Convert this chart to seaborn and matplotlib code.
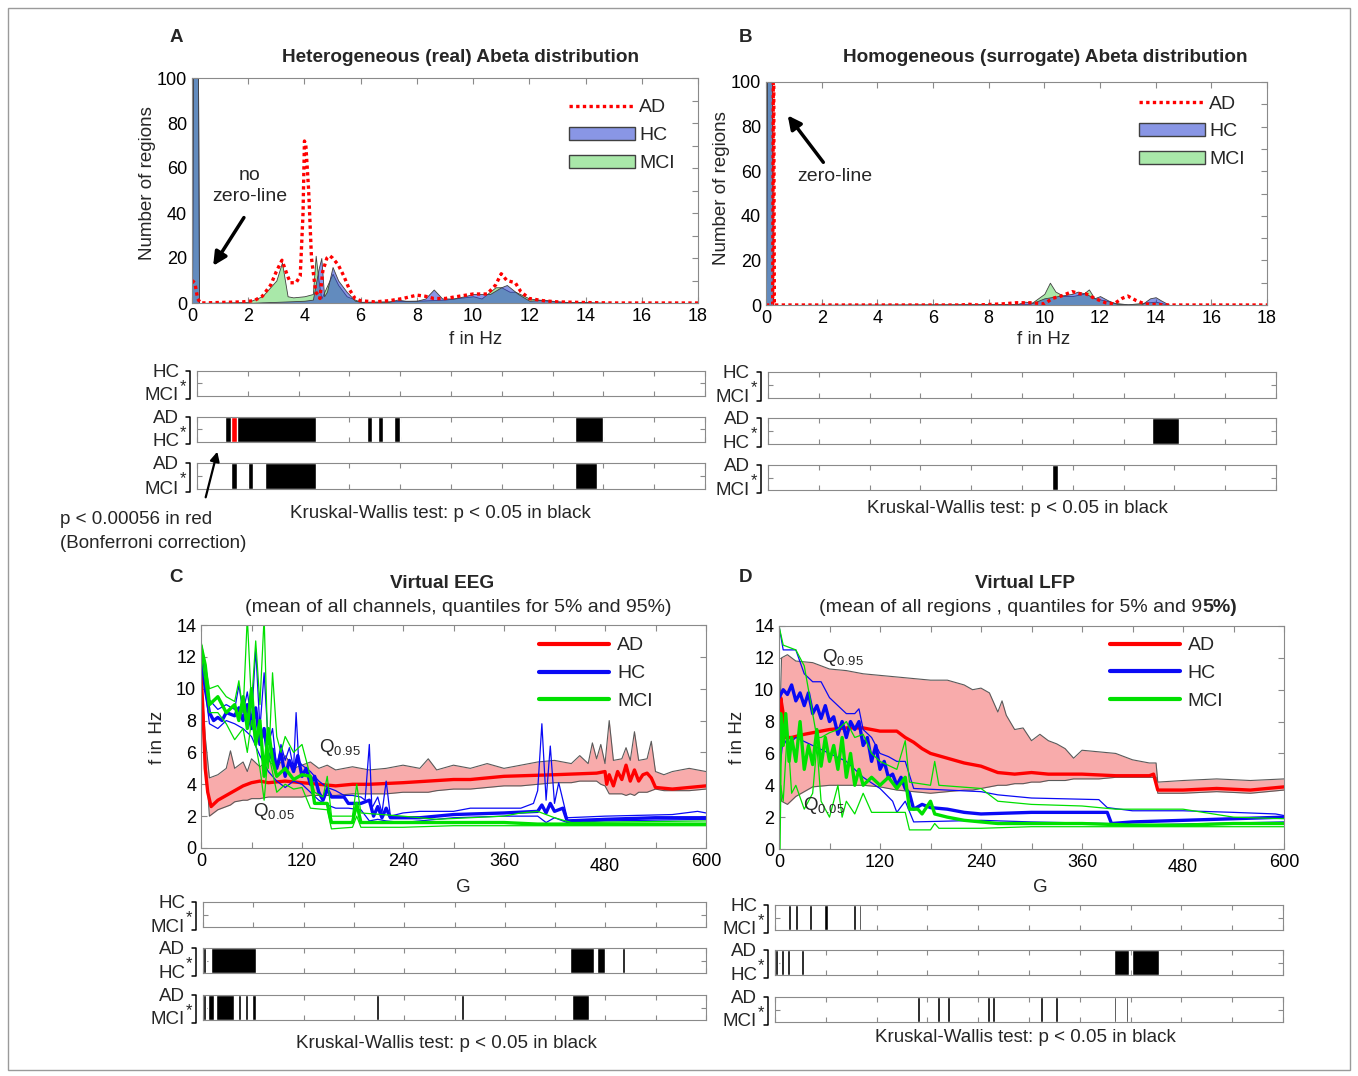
import matplotlib
matplotlib.use('Agg')
import matplotlib.pyplot as plt
import seaborn as sns
from matplotlib.patches import Patch, Rectangle, FancyArrowPatch
from matplotlib.lines import Line2D

# ---------------- data ----------------
# A: heterogeneous Abeta, histogram of peak frequency
a_ad_f = [0.0, 0.1, 0.2, 0.3, 1.8, 2.2, 2.5, 2.8, 3.0, 3.2, 3.4, 3.5, 3.7, 3.85, 3.95, 4.0, 4.05, 4.15, 4.25, 4.4,
          4.55, 4.65, 4.8, 4.9, 5.0, 5.2, 5.4, 5.6, 5.8, 6.0, 6.5, 7.0, 7.5, 8.0, 8.3, 8.6, 9.0, 9.5, 10.0, 10.5,
          10.8, 11.0, 11.2, 11.5, 11.7, 12.0, 12.5, 13.0, 14.0, 15.0, 18.0]
a_ad_n = [10, 9, 2, 0, 0.5, 1, 3, 8, 14, 19, 12, 9, 9, 12, 40, 72, 70, 50, 20, 5,
          2, 14, 20, 21, 20, 17, 12, 6, 2, 1, 0.5, 1, 2, 3.5, 3, 2, 2, 3, 4, 4,
          8, 13, 10, 9, 5, 2, 1, 0.5, 0.2, 0, 0]
a_hc_f = [0.0, 0.05, 0.2, 0.25, 2.0, 2.5, 3.0, 4.0, 4.3, 4.5, 4.6, 4.7, 4.8, 5.0, 5.2, 5.5, 5.8, 6.0, 7.0, 7.3,
          7.6, 8.0, 8.3, 8.6, 8.9, 9.3, 9.7, 10.0, 10.3, 10.6, 11.0, 11.2, 11.4, 11.6, 12.0, 12.5, 12.8, 13.5,
          14.0, 14.3, 15.0, 18.0]
a_hc_n = [0, 140, 140, 0, 0, 0.3, 0.5, 1, 1.5, 15, 20, 3, 5, 16, 10, 5, 1, 0.5, 0.5, 1.5,
          1, 1, 2, 6, 2, 2, 3, 4, 4, 4, 7, 8, 6, 4, 1, 1.5, 1, 0.3, 0.5, 0.2, 0, 0]
a_mci_f = [0.0, 0.05, 0.2, 0.25, 2.0, 2.5, 3.0, 3.2, 3.4, 3.6, 4.0, 4.3, 4.4, 4.5, 4.6, 5.0, 5.2, 5.5, 6.0, 8.0,
           9.0, 10.0, 10.3, 10.8, 11.0, 11.3, 11.5, 12.0, 13.0, 14.0, 15.0, 18.0]
a_mci_n = [0, 140, 140, 0, 0.5, 3, 10, 18, 3, 2.5, 3, 4, 21, 10, 2, 13, 8, 3, 0.5, 1,
           1.5, 3, 2, 7, 7, 5, 5, 2, 0.5, 0.3, 0, 0]

# B: homogeneous (surrogate) Abeta
b_ad_f = [0.0, 0.24, 0.27, 0.3, 7.0, 7.3, 7.6, 8.5, 9.0, 9.5, 10.0, 10.3, 10.6, 11.0, 11.3, 11.5, 11.8, 12.2,
          12.5, 12.8, 13.0, 13.3, 13.6, 14.0, 14.5, 18.0]
b_ad_n = [0, 0, 140, 0, 0, 0.3, 0, 0.5, 1, 1, 0.5, 3, 4, 6, 5, 5, 3, 1, 0.5, 3, 4, 2, 0.5, 0.2, 0, 0]
b_hc_f = [0.0, 0.05, 0.2, 0.25, 9.0, 9.3, 9.6, 10.0, 10.5, 11.0, 11.2, 11.5, 11.8, 12.0, 12.3, 12.6, 13.0,
          13.5, 13.8, 14.0, 14.2, 14.5, 18.0]
b_hc_n = [0, 140, 140, 0, 0.3, 1.5, 1, 3, 4, 5, 6, 5, 3, 4, 2, 0.5, 0.3, 0.3, 3, 3.5, 2, 0, 0]
b_mci_f = [0.0, 0.05, 0.2, 0.25, 9.5, 10.0, 10.2, 10.4, 10.7, 11.0, 11.4, 11.6, 11.8, 12.2, 12.5, 13.0, 14.0,
           14.5, 18.0]
b_mci_n = [0, 140, 140, 0, 0.5, 5, 10, 6, 4, 4, 5, 7, 3, 2, 1, 0.3, 1.5, 0, 0]

# C: virtual EEG
c_band_g = [0, 5, 10, 20, 30, 35, 40, 50, 55, 60, 70, 80, 90, 100, 110, 120, 130, 140, 150, 160, 180, 200, 220,
            240, 260, 270, 280, 300, 320, 340, 360, 380, 400, 420, 440, 450, 460, 465, 470, 475, 480, 485, 490,
            500, 505, 510, 515, 520, 530, 535, 540, 550, 560, 580, 600]
c_q95 = [11.0, 7.0, 4.4, 4.6, 5.0, 6.1, 5.0, 5.4, 4.8, 5.6, 5.1, 5.5, 5.0, 5.8, 5.0, 5.2, 5.4, 5.0, 5.2, 4.9,
         5.1, 4.9, 5.0, 5.2, 5.0, 5.6, 4.9, 5.2, 5.0, 5.3, 5.0, 5.2, 5.4, 5.5, 5.3, 5.8, 5.3, 6.6, 5.6, 6.5,
         5.3, 8.0, 5.5, 5.6, 6.3, 5.5, 7.3, 5.5, 5.6, 6.7, 4.8, 4.6, 4.8, 5.0, 4.8]
c_q05 = [11.0, 6.0, 2.0, 2.4, 2.6, 2.7, 2.9, 3.0, 3.0, 3.1, 3.1, 3.2, 3.2, 3.2, 3.2, 3.2, 3.3, 3.3, 3.3, 3.3,
         3.4, 3.4, 3.4, 3.5, 3.5, 3.5, 3.6, 3.7, 3.7, 3.8, 3.9, 3.9, 4.0, 4.1, 4.1, 4.2, 4.2, 4.2, 4.2, 4.0,
         3.9, 3.4, 3.4, 3.4, 3.3, 3.4, 3.3, 3.5, 3.5, 3.6, 3.7, 3.6, 3.6, 3.6, 3.7]
c_ad_g = [0, 2, 5, 8, 12, 20, 30, 40, 50, 60, 70, 80, 100, 120, 140, 160, 180, 200, 240, 300, 320, 360, 420,
          470, 480, 482, 485, 490, 495, 500, 505, 510, 515, 520, 525, 530, 535, 540, 560, 580, 600]
c_ad_m = [11.0, 9.0, 5.0, 3.5, 2.6, 3.0, 3.3, 3.6, 3.9, 4.1, 4.2, 4.1, 4.2, 4.1, 4.0, 3.9, 4.0, 4.0, 4.1, 4.3,
          4.3, 4.5, 4.6, 4.7, 4.8, 4.0, 4.6, 3.9, 4.8, 4.3, 5.2, 4.2, 4.9, 4.2, 4.6, 4.7, 4.4, 3.8, 3.7, 3.8, 3.9]
c_hc_g = [0, 5, 10, 15, 20, 25, 30, 40, 45, 50, 55, 60, 65, 70, 75, 80, 85, 90, 95, 100, 105, 110, 115, 120,
          125, 130, 135, 140, 145, 150, 155, 160, 170, 175, 190, 200, 205, 210, 215, 220, 225, 240, 260, 300,
          360, 400, 405, 410, 415, 420, 430, 435, 480, 540, 600]
c_hc_m = [12.5, 10.0, 8.5, 8.0, 8.2, 8.0, 8.5, 8.3, 8.8, 8.0, 9.0, 7.5, 8.8, 6.5, 7.5, 5.5, 6.2, 5.0, 6.0, 4.5,
          5.5, 4.8, 5.8, 4.5, 5.0, 4.0, 4.5, 3.5, 3.0, 3.7, 3.2, 3.2, 3.2, 2.8, 2.8, 3.0, 2.0, 2.6, 1.9, 2.5,
          1.9, 1.9, 1.9, 2.1, 2.2, 2.3, 2.7, 2.2, 2.8, 2.3, 2.5, 1.7, 1.8, 1.9, 1.9]
c_hc95_g = [0, 10, 20, 30, 40, 45, 50, 55, 60, 65, 70, 75, 80, 85, 90, 95, 100, 105, 110, 113, 116, 120, 130,
            140, 150, 160, 170, 180, 190, 195, 200, 203, 210, 215, 220, 225, 240, 260, 300, 320, 360, 380, 395,
            400, 405, 410, 415, 420, 425, 430, 435, 480, 560, 590, 600]
c_hc95 = [12.8, 9.3, 8.7, 9.0, 8.7, 10.2, 8.5, 9.8, 8.0, 12.5, 7.5, 11.0, 6.5, 7.5, 5.0, 6.5, 5.5, 6.3, 5.0,
          8.5, 5.5, 5.2, 4.8, 4.2, 3.8, 3.6, 3.3, 3.3, 3.2, 3.0, 6.5, 2.5, 3.2, 2.2, 4.2, 2.0, 2.2, 2.3, 2.3,
          2.5, 2.5, 2.5, 2.8, 3.6, 7.8, 3.0, 6.4, 2.8, 4.1, 3.0, 1.9, 2.0, 2.1, 2.3, 2.2]
c_hc05_g = [0, 10, 20, 30, 40, 50, 60, 70, 80, 90, 100, 110, 120, 130, 140, 150, 160, 175, 190, 200, 210, 220,
            240, 300, 360, 400, 410, 420, 435, 480, 600]
c_hc05 = [12.2, 7.8, 7.5, 8.0, 7.8, 7.5, 7.0, 5.8, 4.8, 4.2, 3.8, 4.2, 4.0, 3.5, 3.0, 2.7, 2.5, 2.5, 2.4, 1.7,
          1.8, 1.7, 1.6, 1.9, 2.0, 2.0, 1.6, 1.9, 1.6, 1.7, 1.8]
c_mci_g = [0, 5, 10, 20, 30, 40, 45, 50, 55, 60, 65, 70, 75, 80, 85, 90, 100, 110, 120, 130, 135, 150, 155,
           180, 185, 190, 240, 300, 360, 400, 600]
c_mci_m = [12.7, 11.5, 9.0, 9.5, 8.5, 9.0, 8.0, 9.5, 7.5, 10.0, 6.5, 8.0, 4.5, 7.5, 5.5, 4.5, 5.0, 4.3, 4.6,
           4.5, 2.8, 2.8, 1.6, 1.6, 2.8, 1.6, 1.6, 1.6, 1.6, 1.5, 1.5]
c_mci95_g = [0, 10, 20, 30, 40, 45, 50, 55, 60, 65, 70, 75, 80, 85, 90, 95, 100, 110, 120, 125, 130, 135, 145,
             150, 155, 180, 185, 190, 240, 280, 360, 380, 400, 420, 440, 600]
c_mci95 = [13.0, 10.0, 10.2, 9.5, 9.2, 10.5, 8.5, 14.5, 9.0, 13.0, 9.0, 14.5, 5.0, 11.0, 7.0, 6.0, 7.0, 6.0,
           6.5, 5.5, 4.5, 3.5, 3.2, 4.5, 2.0, 2.0, 4.0, 2.2, 2.0, 1.8, 2.0, 2.2, 2.3, 1.9, 1.6, 1.7]
c_mci05_g = [0, 10, 20, 30, 40, 50, 55, 60, 70, 75, 80, 90, 100, 110, 120, 130, 150, 155, 180, 185, 190, 240,
             300, 400, 600]
c_mci05 = [12.3, 8.5, 8.5, 7.8, 6.8, 7.5, 6.0, 8.0, 5.0, 3.0, 6.0, 3.5, 4.0, 3.7, 3.8, 2.5, 2.4, 1.2, 1.3,
           2.0, 1.3, 1.3, 1.4, 1.4, 1.4]

# D: virtual LFP
d_band_g = [0, 3, 10, 20, 40, 60, 80, 100, 120, 140, 160, 180, 200, 220, 230, 240, 250, 260, 265, 270, 280,
            290, 300, 310, 320, 330, 340, 350, 360, 380, 400, 410, 420, 440, 448, 450, 480, 520, 560, 600]
d_q95 = [6.0, 12.0, 12.2, 11.8, 11.7, 11.3, 11.2, 11.0, 10.9, 10.8, 10.7, 10.6, 10.6, 10.3, 10.0, 10.1, 9.8,
         8.6, 9.3, 8.4, 7.5, 7.6, 6.8, 7.2, 6.8, 6.6, 6.3, 5.7, 6.2, 6.1, 6.0, 5.8, 5.6, 5.4, 5.4, 4.2, 4.3,
         4.4, 4.3, 4.4]
d_q05 = [5.5, 3.0, 2.8, 3.3, 3.9, 4.0, 4.0, 4.0, 3.9, 3.7, 3.6, 3.5, 3.6, 3.7, 3.7, 3.8, 3.9, 4.0, 4.0, 4.0,
         4.1, 4.1, 4.2, 4.2, 4.3, 4.3, 4.3, 4.4, 4.4, 4.4, 4.5, 4.5, 4.5, 4.5, 4.5, 3.5, 3.5, 3.6, 3.5, 3.7]
d_ad_g = [0, 2, 5, 8, 15, 30, 40, 60, 80, 100, 120, 140, 150, 160, 170, 180, 200, 220, 240, 260, 280, 300,
          320, 360, 400, 440, 445, 450, 480, 520, 560, 600]
d_ad_m = [5.8, 9.5, 8.5, 7.0, 7.0, 7.2, 7.3, 7.5, 7.6, 7.6, 7.4, 7.4, 7.0, 6.7, 6.3, 6.0, 5.7, 5.4, 5.2, 4.8,
          4.7, 4.8, 4.7, 4.7, 4.6, 4.6, 4.7, 3.7, 3.7, 3.8, 3.7, 3.9]
d_hc_g = [0, 5, 10, 15, 20, 25, 30, 35, 40, 45, 50, 55, 60, 65, 70, 75, 80, 85, 90, 95, 100, 105, 110, 115,
          120, 125, 130, 135, 140, 145, 150, 155, 160, 170, 180, 200, 220, 240, 300, 360, 390, 395, 420, 480,
          540, 600]
d_hc_m = [9.5, 10.0, 9.7, 10.3, 9.3, 9.8, 9.0, 9.8, 8.5, 9.0, 8.2, 9.0, 8.0, 8.3, 7.2, 8.0, 7.0, 8.0, 7.5, 8.0,
          6.5, 7.0, 5.5, 6.5, 5.0, 5.5, 4.5, 4.7, 4.0, 4.5, 3.8, 3.5, 2.5, 2.8, 2.6, 2.5, 2.3, 2.2, 2.3, 2.3,
          2.3, 1.6, 1.7, 1.8, 1.9, 2.0]
d_hc95_g = [0, 5, 20, 30, 40, 50, 60, 70, 80, 90, 95, 100, 110, 120, 130, 140, 150, 160, 200, 240, 260, 300,
            380, 390, 420, 480, 540, 590, 600]
d_hc95 = [14.0, 12.5, 12.5, 11.0, 10.5, 10.5, 9.5, 9.0, 8.5, 8.5, 8.8, 7.5, 7.0, 6.0, 5.8, 5.5, 5.5, 3.8, 3.7,
          3.6, 3.4, 3.2, 3.1, 2.6, 2.4, 2.4, 2.3, 2.2, 2.1]
d_hc05_g = [0, 5, 10, 20, 40, 60, 80, 100, 120, 135, 140, 150, 160, 240, 300, 390, 420, 600]
d_hc05 = [4.5, 7.0, 6.5, 7.0, 6.5, 6.0, 5.5, 4.5, 3.8, 3.0, 2.3, 3.0, 1.7, 1.8, 1.7, 1.6, 1.5, 1.7]
d_mci_g = [0, 2, 5, 8, 12, 15, 20, 25, 30, 35, 40, 45, 50, 55, 60, 65, 70, 75, 80, 85, 90, 95, 100, 110, 120,
           130, 140, 150, 155, 165, 170, 180, 185, 200, 220, 240, 260, 300, 360, 420, 480, 540, 600]
d_mci_m = [0.0, 8.5, 6.5, 8.5, 5.5, 7.0, 5.5, 8.0, 5.0, 6.5, 5.3, 7.5, 5.2, 7.0, 5.5, 6.5, 5.0, 7.0, 4.5, 6.0,
           4.0, 5.0, 4.0, 4.5, 4.0, 4.5, 3.8, 4.5, 2.5, 2.5, 2.2, 3.0, 2.2, 2.0, 1.8, 1.7, 1.6, 1.6, 1.6, 1.5,
           1.5, 1.6, 1.6]
d_mci95_g = [0, 5, 20, 30, 35, 40, 45, 50, 60, 70, 80, 90, 100, 110, 120, 140, 150, 155, 180, 185, 190, 240,
             260, 300, 360, 400, 440, 480, 540, 600]
d_mci95 = [14.0, 12.8, 12.5, 11.5, 10.0, 8.5, 7.0, 7.0, 7.3, 7.5, 8.0, 7.0, 7.2, 6.0, 5.5, 5.0, 6.8, 4.2, 4.0,
           5.5, 4.0, 3.8, 3.0, 2.8, 2.7, 2.5, 2.5, 2.5, 2.0, 1.9]
d_mci05_g = [0, 2, 5, 10, 15, 20, 30, 40, 45, 50, 60, 70, 75, 80, 90, 100, 110, 120, 140, 150, 155, 180, 185,
             190, 240, 300, 400, 480, 600]
d_mci05 = [0.0, 4.0, 3.0, 7.5, 3.5, 4.0, 2.5, 3.5, 6.5, 3.0, 2.0, 4.0, 2.0, 3.0, 2.2, 3.5, 2.3, 2.3, 2.3, 2.3,
           1.2, 1.2, 1.6, 1.3, 1.3, 1.4, 1.4, 1.4, 1.4]

# significance bands (start, end); A/B strips on a 0-20 scale, C/D in G
a_sig = {'HC-MCI': [], 'AD-HC': [(1.1, 4.67), (6.69, 6.9), (7.13, 7.33), (7.77, 8.0), (14.9, 16.0)],
         'AD-MCI': [(1.35, 1.57), (1.99, 2.2), (2.66, 4.67), (14.9, 15.75)]}
a_red = [(1.35, 1.57)]
b_sig = {'HC-MCI': [], 'AD-HC': [(15.1, 16.2)], 'AD-MCI': [(11.2, 11.4)]}
c_sig = {'HC-MCI': [],
         'AD-HC': [(0.3, 3.8), (9.3, 63.6), (437.5, 466.5), (470, 479), (500.2, 503.9)],
         'AD-MCI': [(0.3, 3.5), (5.8, 12.9), (16, 37), (41.9, 45.4), (50.0, 53.6), (57.9, 63.6),
                    (206.7, 210.3), (308.2, 311.8), (440, 461)]}
d_sig = {'HC-MCI': [(15.4, 18.9), (23.5, 27.0), (39.7, 43.2), (58.1, 62.7), (92.4, 95.6), (98.7, 101.9)],
         'AD-HC': [(0.5, 4.0), (7.3, 10.8), (14.5, 18.0), (30.7, 34.2), (400.3, 418.3), (421.5, 453)],
         'AD-MCI': [(167.7, 171.2), (191.2, 194.7), (202.9, 206.4), (250.7, 254.2), (256.5, 260.0),
                    (313.3, 316.8), (330.9, 334.4), (399.9, 403.0), (414.3, 417.4)]}

# ---------------- style ----------------
sns.set_theme(style='white')
plt.rcParams['font.family'] = ['Liberation Sans', 'DejaVu Sans']
plt.rcParams['mathtext.fontset'] = 'custom'
plt.rcParams['mathtext.rm'] = 'Liberation Sans'

W, H = 1358, 1076
RED, BLUE, GREEN = '#ff0000', '#0a0af5', '#00e000'
HC_FILL = (0.16, 0.25, 0.82, 0.55)
MCI_FILL = '#a9e8a9'
BAND = '#f8abab'
EDGE = '#5a5a5a'
FRAME = '#8a8a8a'

fig = plt.figure(figsize=(W / 100, H / 100), dpi=100)


def px(l, t, r, b):
    return [l / W, 1 - b / H, (r - l) / W, (b - t) / H]


def ftext(x, y, s, **kw):
    fig.text(x / W, 1 - y / H, s, **kw)


def box(ax):
    for s in ax.spines.values():
        s.set_color(FRAME)
        s.set_linewidth(0.8)
    ax.tick_params(which='both', direction='in', top=True, right=True, bottom=True, left=True,
                   colors=FRAME, labelcolor='black', labelsize=13, length=4, width=0.8)


def line(ax, x, y, color, lw, **kw):
    sns.lineplot(x=x, y=y, ax=ax, color=color, lw=lw, estimator=None, sort=False, legend=False, **kw)


def hist_panel(rect, hc_f, hc_n, mci_f, mci_n, ad_f, ad_n, leg_y):
    ax = fig.add_axes(px(*rect))
    ax.fill_between(mci_f, mci_n, facecolor=MCI_FILL, edgecolor='#404040', lw=0.6)
    ax.fill_between(hc_f, hc_n, facecolor=HC_FILL, edgecolor='#404040', lw=0.6)
    line(ax, ad_f, ad_n, RED, 2.4, linestyle=(0, (1, 1)))
    ax.set_xlim(0, 18)
    ax.set_ylim(0, 100)
    ax.set_xticks(range(0, 19, 2))
    ax.set_yticks(range(0, 101, 20))
    ax.set_yticks(range(10, 100, 20), minor=True)
    ax.set_xlabel('')
    ax.set_ylabel('')
    box(ax)
    handles = [Line2D([], [], color=RED, lw=2.4, linestyle=(0, (1, 1))),
               Patch(facecolor=HC_FILL, edgecolor='#404040'),
               Patch(facecolor=MCI_FILL, edgecolor='#404040')]
    ax.legend(handles, ['AD', 'HC', 'MCI'], loc='upper left', bbox_to_anchor=(0.745, leg_y),
              frameon=False, fontsize=14, handlelength=3.4, handletextpad=0.2,
              labelspacing=0.53, borderaxespad=0, borderpad=0)
    return ax


def g_panel(rect, band_g, q05, q95, ad, hc, hc95, hc05, mci, mci95, mci05, leg_x, leg_y):
    ax = fig.add_axes(px(*rect))
    ax.fill_between(band_g, q05, q95, facecolor=BAND, lw=0)
    line(ax, band_g, q95, EDGE, 0.8)
    line(ax, band_g, q05, EDGE, 0.8)
    line(ax, ad[0], ad[1], RED, 2.4)
    line(ax, hc95[0], hc95[1], BLUE, 0.9)
    line(ax, hc05[0], hc05[1], BLUE, 0.9)
    line(ax, hc[0], hc[1], BLUE, 2.4)
    line(ax, mci95[0], mci95[1], GREEN, 0.9)
    line(ax, mci05[0], mci05[1], GREEN, 0.9)
    line(ax, mci[0], mci[1], GREEN, 2.4)
    ax.set_xlim(0, 600)
    ax.set_ylim(0, 14)
    ax.set_xticks(range(0, 601, 120))
    ax.set_xticks(range(60, 600, 120), minor=True)
    ax.set_yticks(range(0, 15, 2))
    ax.set_xlabel('')
    ax.set_ylabel('')
    box(ax)
    ax.xaxis.get_major_ticks()[4].set_pad(7.5)
    handles = [Line2D([], [], color=c, lw=3) for c in (RED, BLUE, GREEN)]
    ax.legend(handles, ['AD', 'HC', 'MCI'], loc='upper left', bbox_to_anchor=(leg_x, leg_y),
              frameon=False, fontsize=14, handlelength=3.6, handletextpad=0.4,
              labelspacing=0.53, borderaxespad=0, borderpad=0)
    return ax


def strips(rects, xmax, step, sig, red=None):
    names = [('HC', 'MCI', 'HC-MCI'), ('AD', 'HC', 'AD-HC'), ('AD', 'MCI', 'AD-MCI')]
    for rect, (top, bot, key) in zip(rects, names):
        ax = fig.add_axes(px(*rect))
        spans = sig[key]
        if spans:
            ax.broken_barh([(s, e - s) for s, e in spans], (0, 1), facecolors='black')
        if red is not None and key == 'AD-HC':
            ax.broken_barh([(s, e - s) for s, e in red], (0, 1), facecolors=RED)
        ax.set_xlim(0, xmax)
        ax.set_ylim(0, 1)
        ax.set_xticks([i * step for i in range(int(round(xmax / step)) + 1)])
        ax.set_yticks([0.5])
        ax.tick_params(labelbottom=False, labelleft=False)
        box(ax)
        ax.tick_params(length=3.5)
        w = rect[2] - rect[0]
        ax.text(-18 / w, 0.95, top, transform=ax.transAxes, ha='right', va='center', fontsize=13.5)
        ax.text(-18 / w, 0.0, bot, transform=ax.transAxes, ha='right', va='center', fontsize=13.5)
        ax.text(-14 / w, 0.38, '*', transform=ax.transAxes, ha='center', va='center', fontsize=12)
        ax.plot([-11 / w, -7 / w, -7 / w, -11 / w], [1.0, 1.0, -0.1, -0.1], color='black', lw=1.1,
                transform=ax.transAxes, clip_on=False)


# ---------------- panel A / B ----------------
axA = hist_panel((192, 78, 698, 303), a_hc_f, a_hc_n, a_mci_f, a_mci_n, a_ad_f, a_ad_n, 0.908)
axA.text(2.06, 52, 'no\nzero-line', ha='center', va='center', fontsize=14, linespacing=1.25)
axA.annotate('', xy=(0.7, 15.5), xytext=(1.9, 39),
             arrowprops=dict(arrowstyle='-|>', color='black', lw=2.5, mutation_scale=20))

axB = hist_panel((766, 82, 1267, 305), b_hc_f, b_hc_n, b_mci_f, b_mci_n, b_ad_f, b_ad_n, 0.942)
axB.text(2.48, 57.5, 'zero-line', ha='center', va='center', fontsize=14)
axB.annotate('', xy=(0.72, 86), xytext=(2.12, 63),
             arrowprops=dict(arrowstyle='-|>', color='black', lw=2.5, mutation_scale=20))

strips([(197, 371, 705, 396), (197, 417, 705, 442), (197, 463, 705, 489)], 20, 2, a_sig, a_red)
strips([(768, 372, 1276, 398), (768, 418, 1276, 444), (768, 465, 1276, 490)], 20, 2, b_sig)

# ---------------- panel C / D ----------------
axC = g_panel((201, 625, 706, 848), c_band_g, c_q05, c_q95, (c_ad_g, c_ad_m), (c_hc_g, c_hc_m),
              (c_hc95_g, c_hc95), (c_hc05_g, c_hc05), (c_mci_g, c_mci_m), (c_mci95_g, c_mci95),
              (c_mci05_g, c_mci05), 0.67, 0.947)
axC.text(140, 6.3, r'Q$_{\mathrm{0.95}}$', fontsize=13.5, va='center')
axC.text(62, 2.3, r'Q$_{\mathrm{0.05}}$', fontsize=13.5, va='center')

axD = g_panel((779, 626, 1284, 849), d_band_g, d_q05, d_q95, (d_ad_g, d_ad_m), (d_hc_g, d_hc_m),
              (d_hc95_g, d_hc95), (d_hc05_g, d_hc05), (d_mci_g, d_mci_m), (d_mci95_g, d_mci95),
              (d_mci05_g, d_mci05), 0.655, 0.952)
axD.text(51, 12.05, r'Q$_{\mathrm{0.95}}$', fontsize=13.5, va='center')
axD.text(29, 2.7, r'Q$_{\mathrm{0.05}}$', fontsize=13.5, va='center')

strips([(203, 902, 706, 927), (203, 948, 706, 973), (203, 995, 706, 1020)], 600, 60, c_sig)
strips([(775, 905, 1283, 930), (775, 950, 1283, 975), (775, 997, 1283, 1022)], 600, 60, d_sig)

# ---------------- text ----------------
ftext(176, 37, 'A', ha='center', va='center', fontsize=13.5, fontweight='bold')
ftext(745, 37, 'B', ha='center', va='center', fontsize=13.5, fontweight='bold')
ftext(176, 578, 'C', ha='center', va='center', fontsize=13.5, fontweight='bold')
ftext(745, 578, 'D', ha='center', va='center', fontsize=13.5, fontweight='bold')

ftext(461, 58, 'Heterogeneous (real) Abeta distribution', ha='center', va='center', fontsize=13.7,
      fontweight='bold')
ftext(1045, 58, 'Homogeneous (surrogate) Abeta distribution', ha='center', va='center', fontsize=13.7,
      fontweight='bold')
ftext(442, 583, 'Virtual EEG', ha='center', va='center', fontsize=13.7, fontweight='bold')
ftext(458, 607, '(mean of all channels, quantiles for 5% and 95%)', ha='center', va='center', fontsize=14)
ftext(1025, 583, 'Virtual LFP', ha='center', va='center', fontsize=13.7, fontweight='bold')
ftext(1202, 607, '(mean of all regions , quantiles for 5% and 9', ha='right', va='center', fontsize=14)
ftext(1202, 607, '5%)', ha='left', va='center', fontsize=14, fontweight='bold')

ftext(476, 339, 'f in Hz', ha='center', va='center', fontsize=13.5)
ftext(1044, 339, 'f in Hz', ha='center', va='center', fontsize=13.5)
ftext(463, 887, 'G', ha='center', va='center', fontsize=13.5)
ftext(1040, 888, 'G', ha='center', va='center', fontsize=13.5)
ftext(148, 183, 'Number of regions', ha='center', va='center', fontsize=13.5, rotation=90)
ftext(722, 188, 'Number of regions', ha='center', va='center', fontsize=13.5, rotation=90)
ftext(158, 737, 'f in Hz', ha='center', va='center', fontsize=13.5, rotation=90)
ftext(738, 737, 'f in Hz', ha='center', va='center', fontsize=13.5, rotation=90)

kw = 'Kruskal-Wallis test: p < 0.05 in black'
ftext(440, 513, kw, ha='center', va='center', fontsize=13.5)
ftext(1017, 508, kw, ha='center', va='center', fontsize=13.5)
ftext(446, 1044, kw, ha='center', va='center', fontsize=13.5)
ftext(1025, 1038, kw, ha='center', va='center', fontsize=13.5)
ftext(60, 519, 'p < 0.00056 in red', ha='left', va='center', fontsize=13.5)
ftext(60, 543, '(Bonferroni correction)', ha='left', va='center', fontsize=13.5)
fig.add_artist(FancyArrowPatch(
    (205 / W, 1 - 500 / H), (218 / W, 1 - 449 / H), transform=fig.transFigure,
    arrowstyle='-|>', mutation_scale=14, lw=1.6, color='black'))

fig.add_artist(Rectangle((8 / W, 1 - 1070 / H), 1342 / W, 1062 / H, transform=fig.transFigure,
                         fill=False, edgecolor='#9a9a9a', lw=1))

fig.savefig('out.png', dpi=100)
